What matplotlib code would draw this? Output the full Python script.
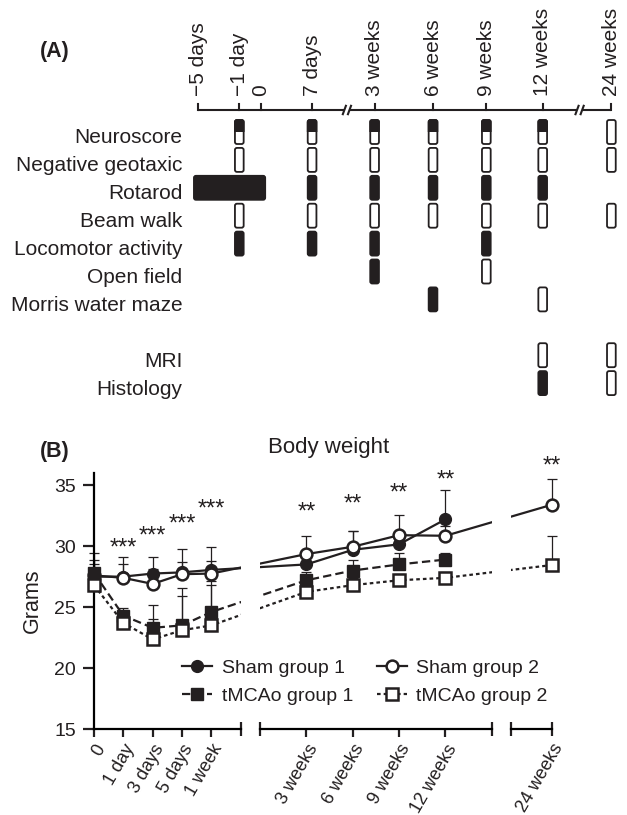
import numpy as np
import matplotlib
matplotlib.use('Agg')
import matplotlib.pyplot as plt
from matplotlib.patches import FancyBboxPatch, Rectangle
from matplotlib.lines import Line2D

plt.rcParams['font.family'] = ['Liberation Sans', 'DejaVu Sans']
plt.rcParams['lines.scale_dashes'] = False

INK = '#231f20'

# ---------------- data: panel A (test schedule) ----------------
sched_times = ['\u22125 days', '\u22121 day', '0', '7 days', '3 weeks',
               '6 weeks', '9 weeks', '12 weeks', '24 weeks']
tests = ['Neuroscore', 'Negative geotaxic', 'Rotarod', 'Beam walk',
         'Locomotor activity', 'Open field', 'Morris water maze', '',
         'MRI', 'Histology']
# one code per time point: F filled, O open, H half filled,
# S ... E filled span, '.' nothing
schedule = ['.H.HHHHHO',
            '.O.OOOOOO',
            'S-EFFFFF.',
            '.O.OOOOOO',
            '.F.FF.F..',
            '....F.O..',
            '.....F.O.',
            '.........',
            '.......OO',
            '.......FO']

# ---------------- data: panel B (body weight, grams) ----------------
times = ['0', '1 day', '3 days', '5 days', '1 week',
         '3 weeks', '6 weeks', '9 weeks', '12 weeks', '24 weeks']
sham1 = [27.5, 27.5, 27.75, 27.85, 28.05, 28.5, 29.7, 30.15, 32.2, np.nan]
sham1_err = [1.4, 1.6, 1.35, 1.9, 1.85, 1.1, 1.55, 0.9, 2.4, np.nan]
sham2 = [27.6, 27.4, 26.9, 27.7, 27.75, 29.35, 29.95, 30.9, 30.85, 33.4]
sham2_err = [0.9, 1.1, 1.2, 1.0, 1.05, 1.5, 1.3, 1.65, 0.8, 2.1]
tmcao1 = [27.8, 24.3, 23.3, 23.5, 24.6, 27.2, 28.0, 28.5, 28.9, np.nan]
tmcao1_err = [1.6, 0.6, 1.9, 3.1, 2.55, 0.7, 0.9, 0.9, 0.5, np.nan]
tmcao2 = [26.8, 23.7, 22.35, 23.1, 23.5, 26.25, 26.8, 27.2, 27.4, 28.45]
tmcao2_err = [0.9, 0.8, 1.65, 2.8, 3.3, 0.6, 0.6, 0.5, 0.5, 2.35]
sig_labels = ['', '***', '***', '***', '***', '**', '**', '**', '**', '**']
sig_height = [np.nan, 30.2, 31.2, 32.2, 33.4, 33.2, 33.8, 34.7, 35.8, 36.9]

# ---------------- figure ----------------
W, H = 627, 815
fig = plt.figure(figsize=(W / 100, H / 100), dpi=100)


def px_box(x0, y0, x1, y1):
    return [x0 / W, 1 - y1 / H, (x1 - x0) / W, (y1 - y0) / H]


# ===== panel A =====
axA = fig.add_axes(px_box(0, 0, W, 420))
axA.axis('off')
ux, x0 = 10.25, 198.3      # px per unit, px of first tick
ry, y0 = 27.9, 132         # px per row, px of first row centre
axA.set_xlim(-x0 / ux, (W - x0) / ux)
axA.set_ylim((420 - y0) / ry, -y0 / ry)

sched_pos = [0, 4.0, 6.1, 11.1, 17.2, 22.9, 28.1, 33.6, 40.3]
breaks = [14.5, 37.2]
r_axis = (110 - y0) / ry
tick_h = 6 / ry

# time line with two breaks
gap = 0.25
edges = [sched_pos[0]] + [v for b in breaks for v in (b - gap, b + gap)] + [sched_pos[-1]]
for a, b in zip(edges[::2], edges[1::2]):
    axA.plot([a, b], [r_axis, r_axis], color=INK, lw=1.5, solid_capstyle='butt')
for b in breaks:
    for s in (-gap, gap):
        axA.plot([b + s - 0.15, b + s + 0.15], [r_axis + 0.15, r_axis - 0.15],
                 color=INK, lw=1.5)
for p, lab in zip(sched_pos, sched_times):
    axA.plot([p, p], [r_axis, r_axis - tick_h], color=INK, lw=1.5)
    axA.text(p, r_axis - tick_h - 0.3, lab, rotation=90, ha='center',
             va='bottom', fontsize=15, color=INK)

bw, bh = 0.85, 0.86
asp = (ux / ry)
style = 'round,pad=0,rounding_size=0.2'


def box(x, row, w, face):
    p = FancyBboxPatch((x, row - bh / 2), w, bh, boxstyle=style,
                       mutation_aspect=asp, fc=face, ec=INK, lw=1.3)
    axA.add_patch(p)
    return p


for i, (name, codes) in enumerate(zip(tests, schedule)):
    if name:
        axA.text((182.5 - x0) / ux, i + bh / 2 - 0.02, name, ha='right',
                 va='baseline', fontsize=15, color=INK)
    for k, c in enumerate(codes):
        x = sched_pos[k]
        if c == 'F':
            box(x - bw / 2, i, bw, INK)
        elif c == 'O':
            box(x - bw / 2, i, bw, 'white')
        elif c == 'H':
            box(x - bw / 2, i, bw, 'white')
            top = box(x - bw / 2, i, bw, INK)
            clip = Rectangle((x - bw, i - bh), 2 * bw, bh * 0.98,
                             transform=axA.transData)
            top.set_clip_path(clip)
        elif c == 'S':
            end = sched_pos[codes.index('E')]
            box(x - bw / 2, i, end - x + bw, INK)

fig.text(40 / W, 1 - 52 / H, '(A)', fontsize=15.5, fontweight='bold',
         va='center', color=INK)

# ===== panel B =====
upx, xb0 = 29.34, 94          # px per unit, px of x = 0
yb_bot, yb_top = 729, 473
seg_lims = [(0, 5), (5.66, 13.56), (14.21, 15.61)]
pos = [0, 1, 2, 3, 4] + [5.66 + 1.58 * k for k in range(1, 5)] + [15.61]
seg_idx = [range(0, 5), range(5, 9), range(9, 10)]

series = [
    ('Sham group 1', sham1, sham1_err, '-', 'o', INK),
    ('Sham group 2', sham2, sham2_err, '-', 'o', 'white'),
    ('tMCAo group 1', tmcao1, tmcao1_err, (0, (6, 3)), 's', INK),
    ('tMCAo group 2', tmcao2, tmcao2_err, (0, (2.6, 2.2)), 's', 'white'),
]

axes = []
for (lo, hi), idx in zip(seg_lims, seg_idx):
    ax = fig.add_axes(px_box(xb0 + lo * upx, yb_top, xb0 + hi * upx, yb_bot))
    ax.patch.set_visible(False)
    ax.set_xlim(lo, hi)
    ax.set_ylim(15, 36)
    for s in ('top', 'right'):
        ax.spines[s].set_visible(False)
    ax.spines['bottom'].set_linewidth(1.6)
    ax.spines['left'].set_linewidth(1.6)
    x = np.array(pos)
    for name, vals, err, ls, mk, face in series:
        v = np.array(vals, float)
        e = np.array(err, float)
        ax.plot(x, v, ls=ls, color=INK, lw=1.6, zorder=2)
        sel = list(idx)
        cont = ax.errorbar(x[sel], v[sel], yerr=[np.zeros(len(sel)), e[sel]],
                           fmt='none', ecolor=INK, elinewidth=0.9,
                           capsize=3.8, capthick=0.9, zorder=1)
        for art in list(cont.lines[1]) + list(cont.lines[2]):
            art.set_clip_on(False)
        ax.plot(x[sel], v[sel], ls='none', marker=mk, ms=8.5, mfc=face,
                mec=INK, mew=1.8 if face == 'white' else 1.0,
                clip_on=False, zorder=4)
    for k in idx:
        if sig_labels[k]:
            ax.text(pos[k], sig_height[k] - 0.9, sig_labels[k], ha='center',
                    va='baseline', fontsize=17, color=INK)
    ax.set_xticks([pos[k] for k in idx])
    ax.set_xticklabels([times[k] for k in idx], rotation=60, ha='right',
                       va='top', rotation_mode='anchor', fontsize=13,
                       color=INK)
    ax.tick_params(axis='x', length=6, width=1.6, direction='out', pad=3,
                   color=INK)
    caps = [c for c in (lo, hi) if c not in (0, 15.61)]
    ax.set_xticks(caps, minor=True)
    ax.tick_params(axis='x', which='minor', length=10, width=1.6,
                   direction='inout', color=INK)
    axes.append(ax)

ax1, ax2, ax3 = axes
ax3.tick_params(axis='x', which='major', direction='inout', length=10)
ax1.set_yticks([15, 20, 25, 30, 35])
ax1.tick_params(axis='y', length=8, width=1.6, labelsize=14, pad=5,
                color=INK, labelcolor=INK)
ax1.set_ylabel('Grams', fontsize=15.5, color=INK, labelpad=8)
for ax in (ax2, ax3):
    ax.spines['left'].set_visible(False)
    ax.set_yticks([])

handles = [Line2D([], [], ls=ls, color=INK, lw=1.6, marker=mk, ms=8.5,
                  mfc=face, mec=INK, mew=1.8 if face == 'white' else 1.0)
           for name, vals, err, ls, mk, face in series]
labels = [s[0] for s in series]
# legend fills column-wise: reorder so rows read Sham 1/2, tMCAo 1/2
order = [0, 2, 1, 3]
fig.legend([handles[i] for i in order], [labels[i] for i in order], ncol=2,
           frameon=False, loc='upper left',
           bbox_to_anchor=(182 / W, 1 - 659 / H),
           fontsize=14, handlelength=1.55, handletextpad=0.5,
           columnspacing=1.2, labelspacing=0.55, borderpad=0,
           borderaxespad=0, labelcolor=INK)

fig.text(329 / W, 1 - 447 / H, 'Body weight', ha='center', va='center',
         fontsize=16, color=INK)
fig.text(40 / W, 1 - 452 / H, '(B)', fontsize=15.5, fontweight='bold',
         va='center', color=INK)

fig.savefig('out.png', dpi=100)
